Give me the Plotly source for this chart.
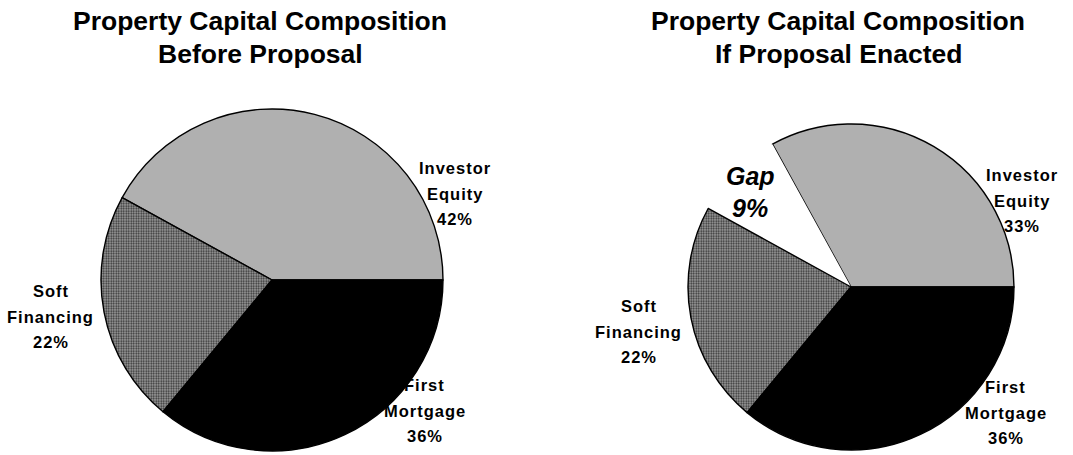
import plotly.graph_objects as go

W, H = 1073, 455

# ---- data ----
categories_before = ["Investor Equity", "Soft Financing", "First Mortgage"]
values_before = [42, 22, 36]
categories_after = ["Investor Equity", "Gap", "Soft Financing", "First Mortgage"]
values_after = [33, 9, 22, 36]
title_before = ["Property Capital Composition", "Before Proposal"]
title_after = ["Property Capital Composition", "If Proposal Enacted"]

# ---- styles ----
FONT = "Liberation Sans, Arial, sans-serif"
slice_fill = {"Investor Equity": "#b0b0b0", "Soft Financing": "#9a9a9a",
              "First Mortgage": "#000000", "Gap": "#ffffff"}
slice_pattern = {"Investor Equity": "", "Soft Financing": ".",
                 "First Mortgage": "", "Gap": ""}


def px_dom(cx, cy, r):
    return dict(x=[(cx - r) / W, (cx + r) / W],
                y=[(H - cy - r) / H, (H - cy + r) / H])


def pie(cats, vals, dom):
    # first slice starts at 3 o'clock and runs counterclockwise
    rot = 90 - 360 * vals[0] / sum(vals)
    return go.Pie(
        labels=cats, values=vals, sort=False, direction="counterclockwise",
        rotation=rot, textinfo="none", hoverinfo="label+percent",
        showlegend=False, domain=dom,
        marker=dict(
            colors=[slice_fill[c] for c in cats],
            line=dict(color=["#ffffff" if c == "Gap" else "#000000" for c in cats],
                      width=[0 if c == "Gap" else 1.4 for c in cats]),
            pattern=dict(shape=[slice_pattern[c] for c in cats],
                         fgcolor="#303030", bgcolor="#a2a2a2",
                         size=2.5, solidity=0.45),
        ),
    )


fig = go.Figure()
fig.add_trace(pie(categories_before, values_before, px_dom(272, 280, 171)))
fig.add_trace(pie(categories_after, values_after, px_dom(851, 287, 163)))

annotations = []


def add_lines(lines, cx, base_y, spacing, size, italic=False, tracking=0):
    for i, t in enumerate(lines):
        txt = f"<b><i>{t}</i></b>" if italic else f"<b>{t}</b>"
        if tracking:
            txt = f"<span style='letter-spacing:{tracking}px'>{txt}</span>"
        cy = base_y + i * spacing - 0.3465 * size
        annotations.append(dict(
            x=(cx + tracking / 2) / W, y=1 - cy / H, xref="paper", yref="paper",
            xanchor="center", yanchor="middle", showarrow=False, text=txt,
            font=dict(family=FONT, size=size, color="#000000")))


# titles
add_lines(title_before, 260, 30, 33.5, 26.5)
add_lines(title_after, 838, 30, 33.5, 26.5)

# slice labels
label_pos_before = {"Investor Equity": (454, 174), "Soft Financing": (50, 297),
                    "First Mortgage": (424, 391)}
label_pos_after = {"Investor Equity": (1021, 181), "Soft Financing": (638, 312),
                   "First Mortgage": (1005, 393), "Gap": (750, 185)}

for cats, vals, pos in [(categories_before, values_before, label_pos_before),
                        (categories_after, values_after, label_pos_after)]:
    for c, v in zip(cats, vals):
        x, y = pos[c]
        lines = c.split(" ") + [f"{v}%"]
        if c == "Gap":
            add_lines(lines, x, y, 32, 25, italic=True)
        else:
            add_lines(lines, x, y, 25.5, 16.5, tracking=1)

fig.update_layout(
    width=W, height=H, margin=dict(l=0, r=0, t=0, b=0),
    paper_bgcolor="#ffffff", plot_bgcolor="#ffffff",
    annotations=annotations,
)

fig.write_html("out.html", config={"displayModeBar": False},
               post_script="document.body.style.margin='0';")
